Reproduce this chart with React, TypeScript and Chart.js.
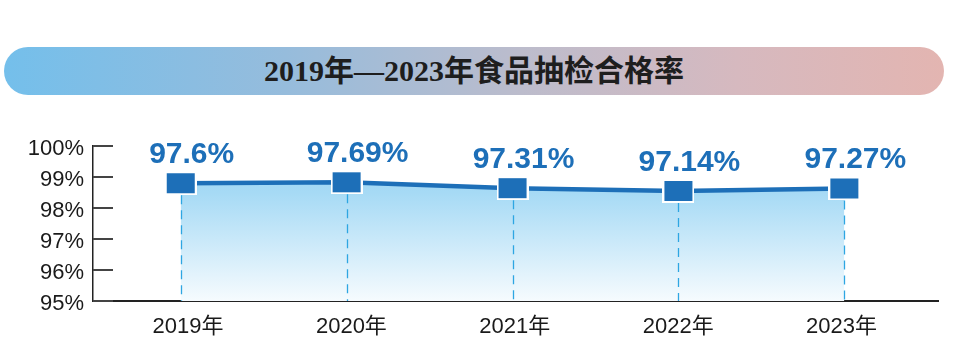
import React, { useEffect, useRef } from "react";
import { Chart, registerables } from "chart.js";

Chart.register(...registerables);

// ---- data ----
const years = ["2019年", "2020年", "2021年", "2022年", "2023年"];
// published pass rates, shown as the value labels
const rateLabels = ["97.6%", "97.69%", "97.31%", "97.14%", "97.27%"];
const plotLevels = [98.8, 98.83, 98.64, 98.55, 98.63];
const yMin = 95;
const yMax = 100;
const title = "2019年—2023年食品抽检合格率";

const SANS = "'Liberation Sans', Arial, 'Noto Sans CJK SC', sans-serif";
const BLUE = "#1d6fb8";

export default function App() {
  const ref = useRef<HTMLCanvasElement | null>(null);

  useEffect(() => {
    const canvas = ref.current;
    if (!canvas) return;

    // marker: blue rectangle with white rim
    const marker = document.createElement("canvas");
    marker.width = 32;
    marker.height = 24;
    const mctx = marker.getContext("2d")!;
    mctx.fillStyle = "#ffffff";
    mctx.fillRect(0, 0, 32, 24);
    mctx.fillStyle = BLUE;
    mctx.fillRect(2, 2, 28, 20);

    // short tick marks pointing into the plot from the y axis
    const innerTicks = {
      id: "innerTicks",
      afterDraw(chart: any) {
        const y = chart.scales.y;
        const { ctx, chartArea } = chart;
        ctx.save();
        ctx.strokeStyle = "#444444";
        ctx.lineWidth = 2;
        y.ticks.forEach((t: any) => {
          const py = Math.round(y.getPixelForValue(t.value));
          ctx.beginPath();
          ctx.moveTo(chartArea.left, py);
          ctx.lineTo(chartArea.left + 20, py);
          ctx.stroke();
        });
        ctx.restore();
      },
    };

    const dropLines = {
      id: "dropLines",
      afterDatasetsDraw(chart: any) {
        const meta = chart.getDatasetMeta(0);
        const { ctx, chartArea } = chart;
        ctx.save();
        ctx.strokeStyle = "#2ea6e2";
        ctx.lineWidth = 1.3;
        ctx.setLineDash([9, 6]);
        meta.data.forEach((pt: any) => {
          ctx.beginPath();
          ctx.moveTo(Math.round(pt.x) + 0.5, pt.y + 12);
          ctx.lineTo(Math.round(pt.x) + 0.5, chartArea.bottom);
          ctx.stroke();
        });
        ctx.restore();
      },
    };

    const valueLabels = {
      id: "valueLabels",
      afterDatasetsDraw(chart: any) {
        const meta = chart.getDatasetMeta(0);
        const { ctx } = chart;
        ctx.save();
        ctx.fillStyle = BLUE;
        ctx.font = `bold 30px ${SANS}`;
        ctx.textAlign = "center";
        ctx.textBaseline = "alphabetic";
        meta.data.forEach((pt: any, i: number) => {
          ctx.fillText(rateLabels[i], pt.x + 11, pt.y - 20);
        });
        ctx.restore();
      },
    };

    const chart = new Chart(canvas, {
      type: "line",
      data: {
        datasets: [
          {
            data: plotLevels.map((v, i) => ({ x: i, y: v })),
            borderColor: BLUE,
            borderWidth: 4.5,
            tension: 0,
            fill: "start",
            backgroundColor: (c: any) => {
              const area = c.chart.chartArea;
              if (!area) return "rgba(160,214,244,0.6)";
              const g = c.chart.ctx.createLinearGradient(0, area.top, 0, area.bottom);
              g.addColorStop(0, "#98d3f3");
              g.addColorStop(0.3, "#a6daf5");
              g.addColorStop(1, "#f6fbfe");
              return g;
            },
            pointStyle: marker as any,
            pointRadius: 12,
            pointHoverRadius: 12,
          },
        ],
      },
      options: {
        responsive: false,
        animation: false,
        events: [],
        layout: { padding: { left: 0, right: 20, top: 36, bottom: 0 } },
        plugins: {
          legend: { display: false },
          tooltip: { enabled: false },
          title: { display: false },
        },
        scales: {
          x: {
            type: "linear",
            position: "bottom",
            min: -0.5286,
            max: 4.5646,
            afterFit: (s: any) => {
              s.height = 0;
            },
            grid: { display: false },
            border: { display: true, color: "#222222", width: 2 },
            ticks: { display: false },
          },
          x2: {
            type: "linear",
            position: "bottom",
            min: -0.5814,
            max: 4.59,
            afterBuildTicks: (s: any) => {
              s.ticks = years.map((_, i) => ({ value: i }));
            },
            afterFit: (s: any) => {
              s.height = 61;
            },
            grid: { display: false },
            border: { display: false },
            ticks: {
              autoSkip: false,
              maxRotation: 0,
              padding: 5,
              color: "#1a1a1a",
              font: { family: SANS, size: 22 },
              callback: (v: any) => years[Math.round(Number(v))] ?? "",
            },
          },
          y: {
            type: "linear",
            position: "left",
            min: yMin,
            max: yMax,
            afterFit: (s: any) => {
              s.width = 93;
            },
            border: { display: true, color: "#222222", width: 1.5 },
            grid: { display: false, drawTicks: false },
            ticks: {
              stepSize: 1,
              padding: 9,
              labelOffset: 3,
              color: "#1a1a1a",
              font: { family: SANS, size: 22 },
              callback: (v: any) => `${v}%`,
            },
          },
        },
      },
      plugins: [innerTicks, dropLines, valueLabels],
    });

    return () => chart.destroy();
  }, []);

  return (
    <div
      style={{
        position: "absolute",
        left: 0,
        top: 0,
        width: 958,
        height: 362,
        background: "#ffffff",
        overflow: "hidden",
      }}
    >
      <div
        style={{
          position: "absolute",
          left: 4,
          top: 47,
          width: 940,
          height: 48,
          borderRadius: 24,
          background:
            "linear-gradient(to right, #74bfeb 0%, #96bcdc 30%, #bcbccc 55%, #d6b9bf 78%, #e3b5b1 100%)",
          display: "flex",
          alignItems: "center",
          justifyContent: "center",
        }}
      >
        <span
          style={{
            fontFamily: "'Liberation Serif', 'Noto Sans CJK SC', serif",
            fontWeight: "bold",
            fontSize: 30,
            color: "#1e1e1e",
            lineHeight: "48px",
            whiteSpace: "nowrap",
          }}
        >
          {title}
        </span>
      </div>
      <canvas
        ref={ref}
        width={958}
        height={252}
        style={{ position: "absolute", left: 0, top: 110, width: 958, height: 252 }}
      />
    </div>
  );
}
